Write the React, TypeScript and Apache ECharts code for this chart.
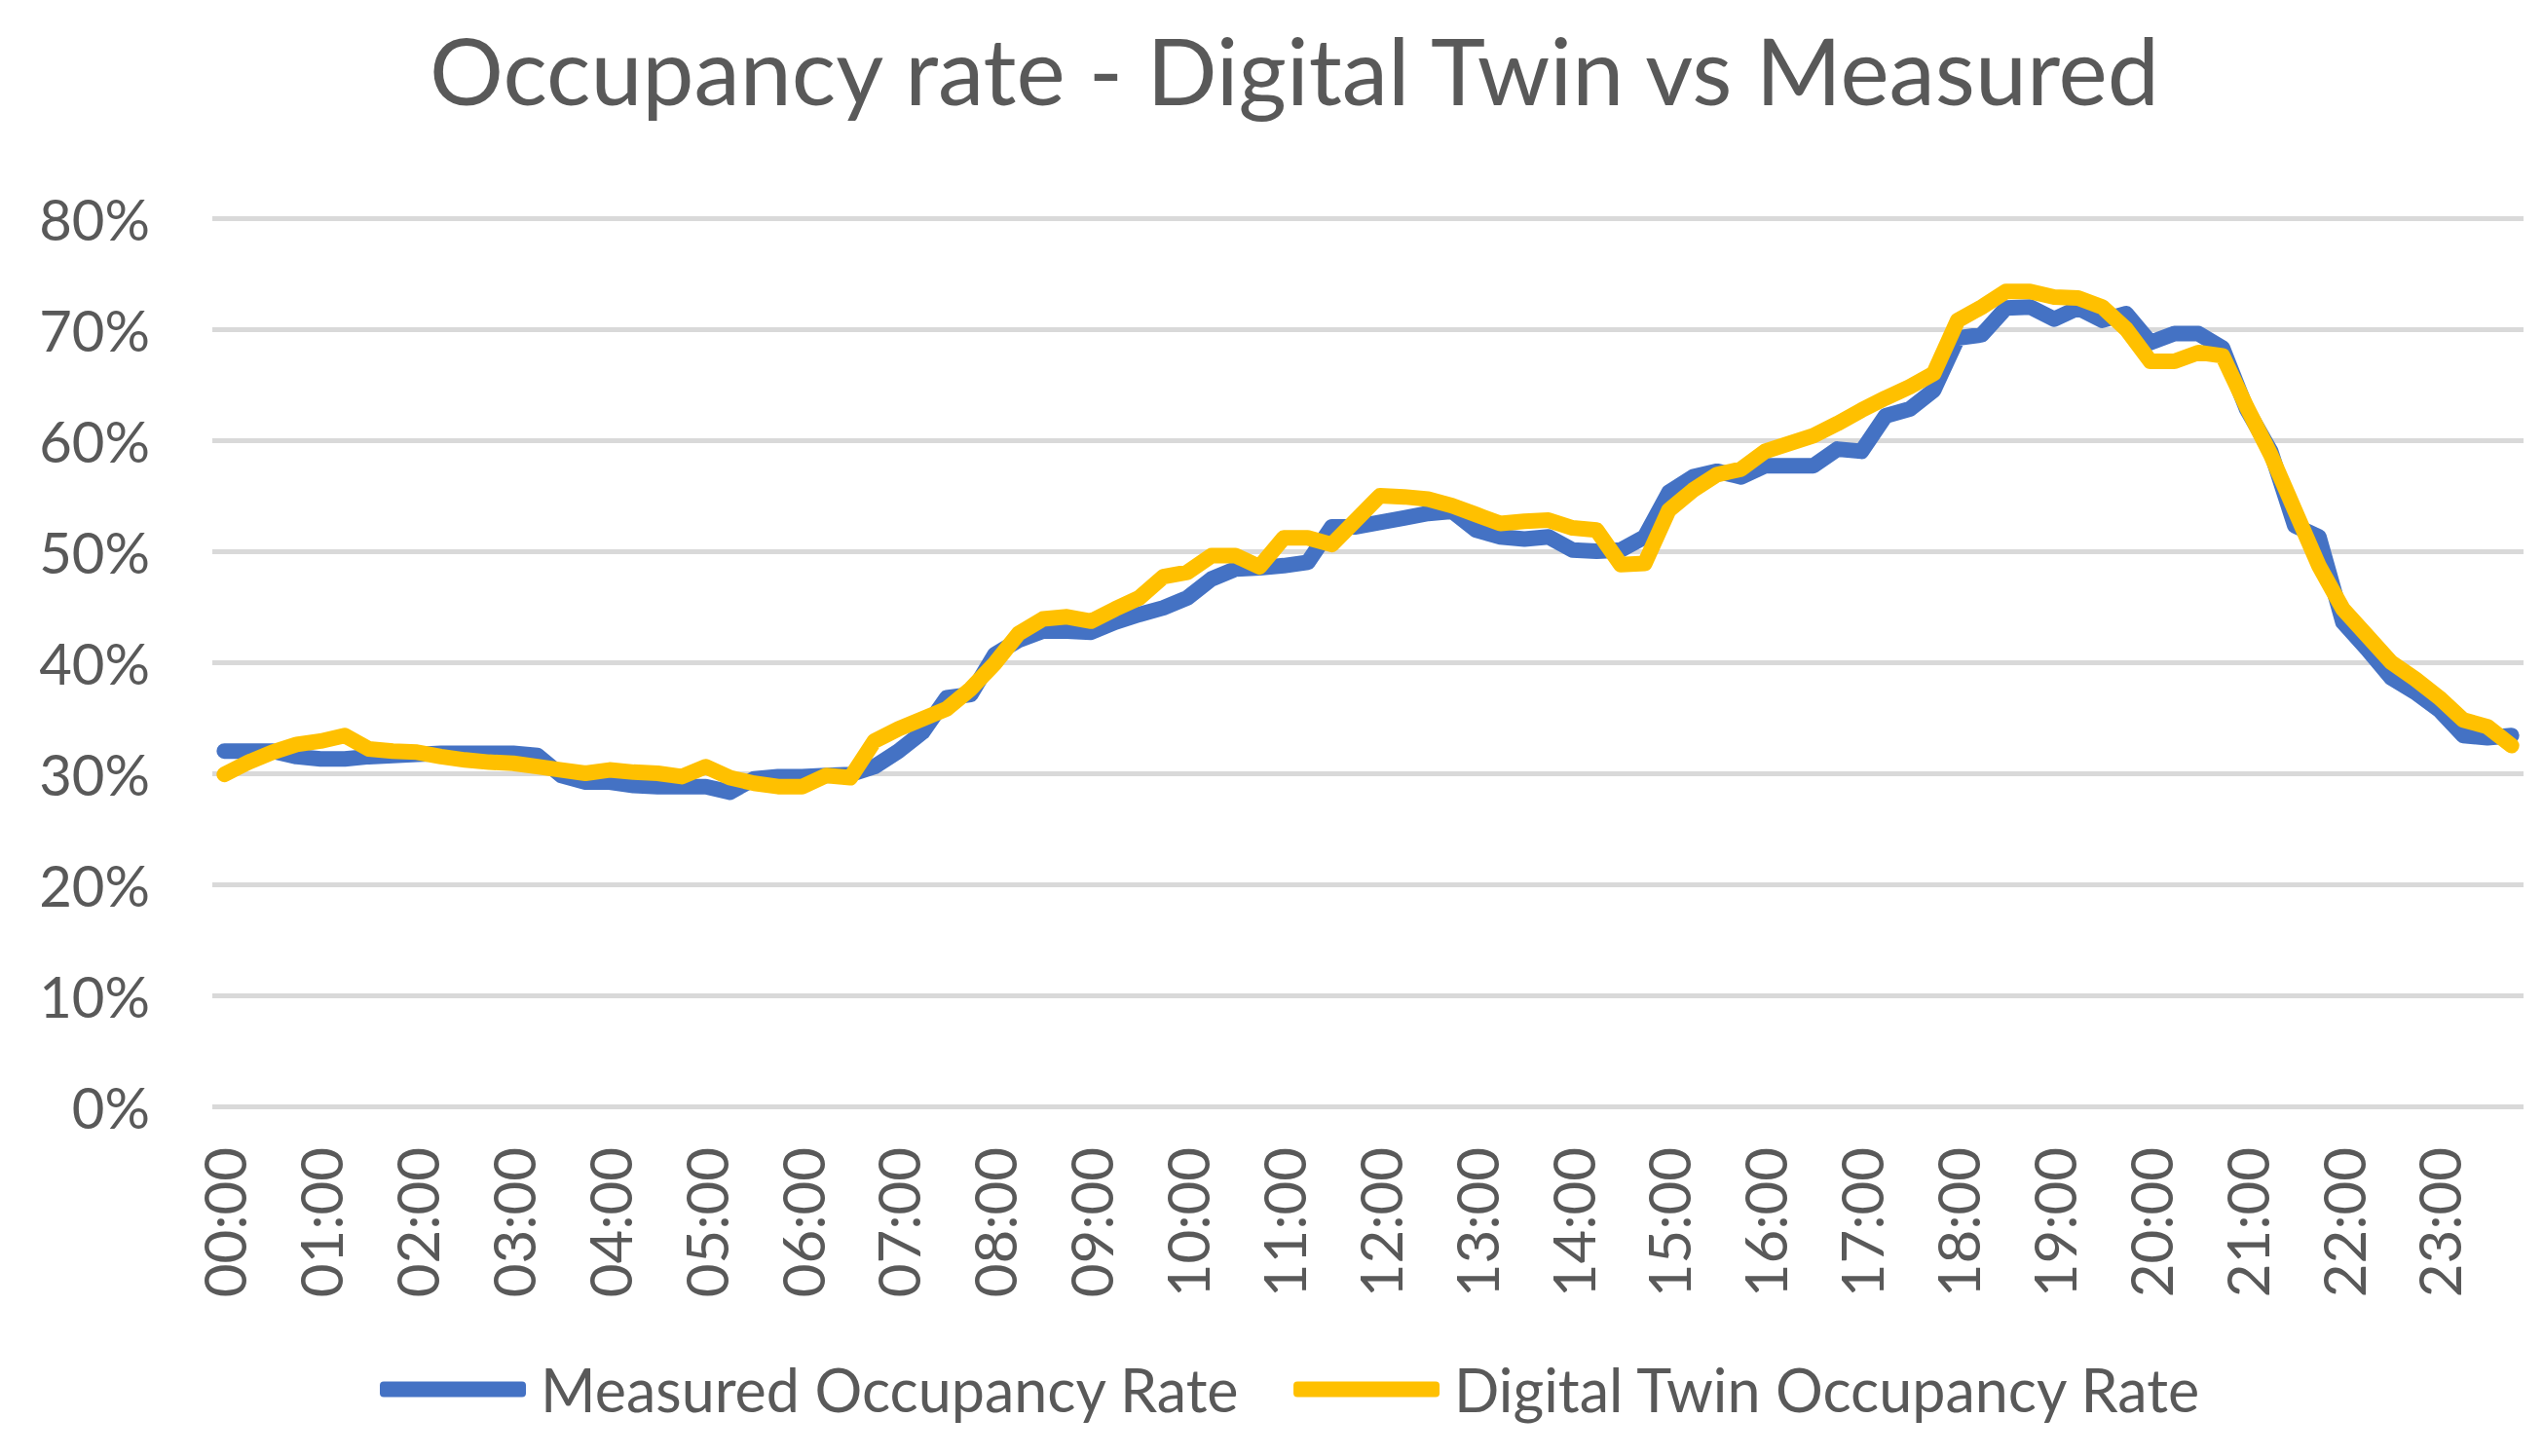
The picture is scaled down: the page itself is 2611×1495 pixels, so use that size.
import React, { useEffect, useRef } from 'react';
import * as echarts from 'echarts';

// 15-minute time slots, labelled every hour on the axis
const hours = ['00', '01', '02', '03', '04', '05', '06', '07', '08', '09', '10', '11',
  '12', '13', '14', '15', '16', '17', '18', '19', '20', '21', '22', '23'];
const quarters = ['00', '15', '30', '45'];
const categories = hours.flatMap((h) => quarters.map((q) => `${h}:${q}`));

// occupancy in %
const measured = [
  32.0, 32.0, 32.0, 31.5, 31.3, 31.3, 31.5, 31.6, 31.7, 31.8,
  31.8, 31.8, 31.8, 31.6, 29.8, 29.2, 29.2, 28.9, 28.8, 28.8,
  28.8, 28.3, 29.5, 29.7, 29.7, 29.8, 29.9, 30.6, 32.0, 33.7,
  36.8, 37.1, 40.7, 42.0, 42.8, 42.8, 42.7, 43.6, 44.3, 44.9,
  45.8, 47.5, 48.4, 48.5, 48.7, 49.0, 52.2, 52.2, 52.6, 53.0,
  53.4, 53.6, 51.9, 51.3, 51.1, 51.3, 50.1, 50.0, 50.1, 51.3,
  55.3, 56.7, 57.2, 56.7, 57.7, 57.7, 57.7, 59.2, 59.0, 62.2,
  62.8, 64.5, 69.2, 69.5, 71.9, 72.0, 70.9, 71.9, 70.8, 71.4,
  68.8, 69.6, 69.6, 68.3, 62.8, 59.0, 52.3, 51.3, 43.6, 41.2,
  38.6, 37.3, 35.7, 33.4, 33.2, 33.4,
];

const digitalTwin = [
  29.9, 31.0, 31.9, 32.6, 32.9, 33.4, 32.2, 32.0, 31.9, 31.5,
  31.2, 31.0, 30.9, 30.6, 30.3, 30.0, 30.3, 30.1, 30.0, 29.7,
  30.6, 29.6, 29.1, 28.8, 28.8, 29.8, 29.6, 32.9, 34.0, 34.9,
  35.8, 37.6, 39.9, 42.6, 43.9, 44.1, 43.7, 44.8, 45.8, 47.7,
  48.1, 49.6, 49.6, 48.6, 51.2, 51.2, 50.6, 52.8, 55.0, 54.9,
  54.7, 54.1, 53.3, 52.5, 52.7, 52.8, 52.1, 51.9, 48.8, 48.9,
  53.7, 55.5, 56.9, 57.4, 59.0, 59.7, 60.4, 61.5, 62.7, 63.8,
  64.8, 66.0, 70.8, 72.0, 73.4, 73.4, 72.9, 72.8, 72.0, 70.0,
  67.1, 67.1, 67.9, 67.6, 63.0, 58.7, 53.7, 48.7, 44.8, 42.4,
  40.0, 38.5, 36.8, 34.8, 34.2, 32.5,
];

const textColor = '#595959';
const font = 'Lato, "Open Sans", sans-serif';

function App() {
  const chartRef = useRef<HTMLDivElement>(null);

  useEffect(() => {
    if (!chartRef.current) return;
    const chart = echarts.init(chartRef.current, null, { renderer: 'svg' });

    const option = {
      animation: false,
      backgroundColor: '#ffffff',
      textStyle: { fontFamily: font, color: textColor },
      title: {
        text: 'Occupancy rate - Digital Twin vs Measured',
        left: 1316,
        top: 10,
        textAlign: 'center',
        textStyle: { fontFamily: font, fontSize: 95, fontWeight: 'normal', color: textColor },
      },
      legend: {
        left: 377,
        top: 1383,
        itemWidth: 150,
        itemHeight: 16,
        itemGap: 55,
        icon: 'roundRect',
        textStyle: { fontFamily: font, fontSize: 61, color: textColor, padding: [0, 0, 0, 10] },
        data: ['Measured Occupancy Rate', 'Digital Twin Occupancy Rate'],
      },
      grid: { left: 210, right: 12, top: 216, bottom: 351, containLabel: false },
      xAxis: {
        type: 'category',
        data: categories,
        boundaryGap: true,
        axisLine: { show: false },
        axisTick: { show: false },
        axisLabel: {
          interval: 3,
          rotate: 90,
          margin: 42,
          fontFamily: font,
          fontSize: 60,
          color: textColor,
        },
      },
      yAxis: {
        type: 'value',
        min: 0,
        max: 80,
        interval: 10,
        axisLine: { show: false },
        axisTick: { show: false },
        axisLabel: {
          formatter: '{value}%',
          margin: 64,
          fontFamily: font,
          fontSize: 58,
          color: textColor,
        },
        splitLine: { lineStyle: { color: '#d9d9d9', width: 5 } },
      },
      series: [
        {
          name: 'Measured Occupancy Rate',
          type: 'line',
          data: measured,
          showSymbol: false,
          color: '#4472c4',
          lineStyle: { width: 16, color: '#4472c4', cap: 'round', join: 'round' },
        },
        {
          name: 'Digital Twin Occupancy Rate',
          type: 'line',
          data: digitalTwin,
          showSymbol: false,
          color: '#ffc000',
          lineStyle: { width: 16, color: '#ffc000', cap: 'round', join: 'round' },
        },
      ],
    };

    chart.setOption(option);
    return () => {
      chart.dispose();
    };
  }, []);

  return <div ref={chartRef} style={{ width: '2595px', height: '1479px' }} />;
}

export default App;
